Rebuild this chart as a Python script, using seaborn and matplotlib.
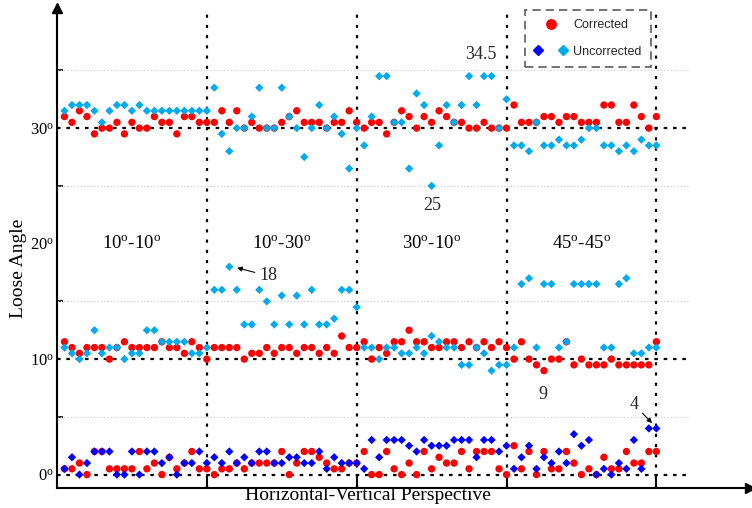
import numpy as np
import pandas as pd
import matplotlib
matplotlib.use("Agg")
import matplotlib.pyplot as plt
import seaborn as sns
from matplotlib.lines import Line2D
from matplotlib.legend_handler import HandlerTuple

# ---- data: 80 samples, four perspective groups of 20 ----
sections = ["10-10", "10-30", "30-10", "45-45"]

light_30 = [31.5, 32, 32, 32, 31.5, 30.5, 31.5, 32, 32, 31.5, 32, 31.5, 31.5, 31.5, 31.5, 31.5, 31.5, 31.5, 31.5, 31.5,
            33.5, 29.5, 28, 30, 30, 31, 33.5, 30, 30, 33.5, 31, 30, 27.5, 30, 32, 30, 31, 29.5, 26.5, 30,
            28.5, 31, 34.5, 34.5, 30.5, 30.5, 26.5, 33, 32, 25, 28.5, 32, 30.5, 32, 34.5, 32, 34.5, 34.5, 30, 32.5,
            28.5, 28.5, 28, 30.5, 28.5, 28.5, 29, 28.5, 28.5, 29, 30, 30, 28.5, 28.5, 28, 28.5, 28, 29, 28.5, 28.5]

red_30 = [31, 30.5, 31.5, 31, 29.5, 30, 30, 30.5, 29.5, 30.5, 30, 30, 31, 30.5, 30.5, 29.5, 31, 31, 30.5, 30.5,
          30.5, 31.5, 30.5, 31.5, 30, 30.5, 30, 30, 30, 30.5, 31, 31.5, 30.5, 30.5, 30.5, 30, 30.5, 30.5, 31.5, 30.5,
          30, 30.5, 30.5, 29.5, 30.5, 31.5, 31, 30, 31, 30.5, 31.5, 31, 30.5, 30.5, 30, 30, 30.5, 30, 30, 30,
          32, 30.5, 30.5, 30.5, 31, 31, 30.5, 31, 31, 30.5, 30.5, 30.5, 32, 32, 30.5, 30.5, 32, 31, 30, 31]

light_10 = [11, 10.5, 10, 10.5, 12.5, 10.5, 11, 11, 10, 10.5, 10.5, 12.5, 12.5, 11.5, 11.5, 11.5, 11.5, 10.5, 10.5, 11,
            16, 16, 18, 16, 13, 13, 16, 15, 13, 15.5, 13, 15.5, 13, 16, 13, 13, 13.5, 16, 16, 14.5,
            11, 11, 10, 11, 11, 10.5, 10.5, 11, 10.5, 12, 11.5, 11, 11, 9.5, 9.5, 11, 10.5, 9, 9.5, 9.5,
            11, 16.5, 17, 11, 16.5, 16.5, 11, 11.5, 16.5, 16.5, 16.5, 16.5, 11, 11, 16.5, 17, 10.5, 10.5, 11, 11]

red_10 = [11.5, 11, 10.5, 11, 11, 11, 10, 11, 11.5, 11, 11, 11, 11, 11.5, 11, 11, 10.5, 11.5, 11, 10,
          11, 11, 11, 11, 10, 10.5, 10.5, 11, 10.5, 11, 11, 10.5, 11, 11, 10.5, 11, 10.5, 12, 11, 11,
          11.5, 10, 11, 10.5, 11.5, 11.5, 12.5, 11.5, 11.5, 11, 11, 11.5, 11.5, 11, 11.5, 11, 11.5, 11, 11.5, 11,
          10, 11.5, 10, 9.5, 9, 10, 10, 11.5, 9.5, 10, 9.5, 9.5, 9.5, 10, 9.5, 9.5, 9.5, 9.5, 9.5, 11.5]

dark_0 = [0.5, 1.5, 0, 1, 2, 2, 2, 0, 0, 2, 0, 2, 2, 1, 1.5, 0, 1, 1, 2, 1,
          1.5, 1, 2, 1, 1.5, 1, 2, 2, 1, 1, 1.5, 1.5, 1, 1, 2, 0.5, 1.5, 1, 1, 1,
          0.5, 3, 1.5, 3, 3, 3, 2.5, 2, 3, 2.5, 2.5, 2.5, 3, 3, 3, 1.5, 3, 3, 2, 2.5,
          0.5, 1.5, 2.5, 0.5, 1.5, 1, 2, 1, 3.5, 2.5, 3, 0, 0.5, 0, 1, 0.5, 3, 0.5, 4, 4]

red_0 = [0.5, 0.5, 1, 0, 2, 2, 0.5, 0.5, 0.5, 0.5, 2, 0.5, 1, 0, 1.5, 0.5, 1, 2, 0.5, 0.5,
         0, 0.5, 0.5, 1, 0.5, 1, 1, 1, 1, 2, 0, 1, 2, 2, 1.5, 1, 0.5, 0.5, 1, 1,
         2, 0, 0, 2, 0.5, 0, 1, 0, 2, 0.5, 1.5, 1, 1, 2, 0.5, 2, 2, 2, 0.5, 0,
         2.5, 0.5, 2, 0, 2, 0.5, 0.5, 2, 1, 0, 0.5, 0, 1.5, 0.5, 0.5, 2, 1, 1, 2, 2]

sample = np.arange(1, 81)

corrected = pd.DataFrame({"x": np.tile(sample, 3), "angle": red_30 + red_10 + red_0})
uncorr_light = pd.DataFrame({"x": np.tile(sample, 2), "angle": light_30 + light_10})
uncorr_dark = pd.DataFrame({"x": sample, "angle": dark_0})

RED = "#ff0000"
LIGHT = "#00aaee"
DARK = "#0000ff"

sns.set_theme(style="white")
plt.rcParams["font.family"] = ["Liberation Serif", "DejaVu Serif"]
plt.rcParams["mathtext.fontset"] = "custom"
plt.rcParams["mathtext.rm"] = "Liberation Serif"
plt.rcParams["mathtext.it"] = "Liberation Serif:italic"
DEG = r"$^{\mathrm{o}}$"

fig = plt.figure(figsize=(7.52, 5.08), dpi=100)
ax = fig.add_axes([57 / 752, 20 / 508, 693 / 752, 480 / 508])
ax.set_xlim(0, 92.5)
ax.set_ylim(-1.16, 40.4)

# reference lines
for v in [5, 15, 25, 35]:
    ax.plot([0, 84.5], [v, v], color="#c8c8c8", lw=0.8, ls=(0, (1, 2)), zorder=1)
for v in [0, 10, 30]:
    ax.plot([0, 84.5], [v, v], color="black", lw=1.6, ls=(0, (1.6, 2.6)), zorder=1)
for xv in [20, 40, 60, 80]:
    ax.axvline(xv, color="black", lw=1.6, ls=(0, (1.4, 3.2)), zorder=1)

sns.scatterplot(data=corrected, x="x", y="angle", ax=ax, color=RED, marker="o",
                s=28, edgecolor="none", linewidth=0, zorder=3, legend=False)
sns.scatterplot(data=uncorr_light, x="x", y="angle", ax=ax, color=LIGHT, marker="D",
                s=18, edgecolor="none", linewidth=0, zorder=4, legend=False)
sns.scatterplot(data=uncorr_dark, x="x", y="angle", ax=ax, color=DARK, marker="D",
                s=18, edgecolor="none", linewidth=0, zorder=4, legend=False)

# axes styling
for side in ["top", "right"]:
    ax.spines[side].set_visible(False)
for side in ["left", "bottom"]:
    ax.spines[side].set_color("black")
    ax.spines[side].set_linewidth(1.5)
ax.plot(1, 0, ">", color="black", ms=7, transform=ax.transAxes, clip_on=False, zorder=6)
ax.plot(0, 1, "^", color="black", ms=7, transform=ax.transAxes, clip_on=False, zorder=6)

ax.set_xticks([20, 40, 60, 80])
ax.set_xticklabels([])
ax.tick_params(axis="x", bottom=True, direction="in", length=8, width=1.5, color="black")
ax.set_yticks([0, 10, 20, 30])
ax.set_yticklabels([f"{v}{DEG}" for v in [0, 10, 20, 30]])
ax.set_yticks([5, 15, 25, 35], minor=True)
ax.tick_params(axis="y", which="major", left=True, length=0, pad=2, labelsize=12, labelcolor="black")
ax.tick_params(axis="y", which="minor", left=True, direction="in", length=4, width=1.2, color="black")
ax.set_xlabel("")
ax.set_ylabel("")

fig.text(368 / 752, 1 - 496 / 508, "Horizontal-Vertical Perspective", ha="center", va="center",
         fontsize=14, color="black")
fig.text(19 / 752, 1 - 268 / 508, "Loose Angle", ha="center", va="center", rotation=90,
         fontsize=14, color="black")

# perspective group labels
for cx, name in zip([10, 30, 50, 70], sections):
    a, b = name.split("-")
    ax.text(cx, 20, f"{a}{DEG}-{b}{DEG}", ha="center", va="center", fontsize=13.5, color="black")

# value call-outs
ax.text(56.6, 36.4, "34.5", ha="center", va="center", fontsize=13)
ax.text(50.1, 23.3, "25", ha="center", va="center", fontsize=13)
ax.text(64.9, 6.9, "9", ha="center", va="center", fontsize=13)
ax.annotate("18", xy=(23.5, 18), xytext=(28.2, 17.2), ha="center", va="center", fontsize=13,
            arrowprops=dict(arrowstyle="-|>", color="black", lw=0.8, mutation_scale=7, shrinkA=1, shrinkB=3))
ax.annotate("4", xy=(79.8, 4.2), xytext=(77.0, 6.1), ha="center", va="center", fontsize=13,
            arrowprops=dict(arrowstyle="-|>", color="black", lw=0.8, mutation_scale=7, shrinkA=1, shrinkB=3))

# legend
h_red = Line2D([], [], ls="none", marker="o", color=RED, ms=6.8)
h_dark = Line2D([], [], ls="none", marker="D", color=DARK, ms=5.6)
h_light = Line2D([], [], ls="none", marker="D", color=LIGHT, ms=5.6)
leg = ax.legend([h_red, (h_dark, h_light)], ["Corrected", "Uncorrected"],
                handler_map={tuple: HandlerTuple(ndivide=None, pad=1.3)},
                loc="upper right", bbox_to_anchor=(0.857, 0.996), frameon=True, fancybox=False,
                prop={"family": "Liberation Sans", "size": 9}, handlelength=2.6, handletextpad=0.5,
                borderpad=0.75, labelspacing=1.15, borderaxespad=0)
frame = leg.get_frame()
frame.set_edgecolor("#333333")
frame.set_linestyle((0, (5, 3)))
frame.set_linewidth(1.2)

fig.savefig("out.png", dpi=100)
